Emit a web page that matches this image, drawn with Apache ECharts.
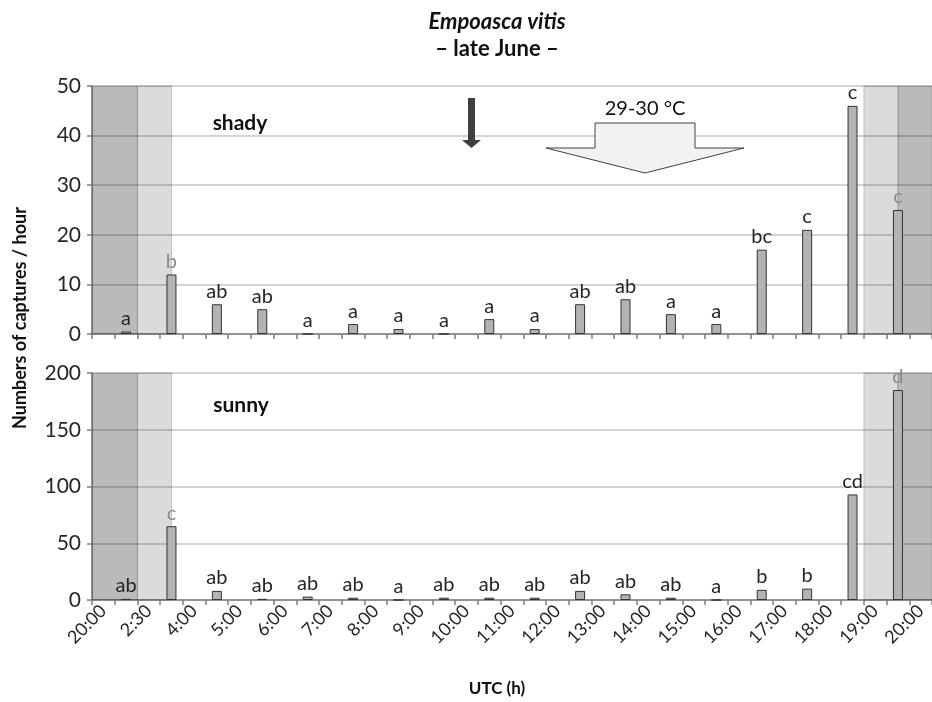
<!DOCTYPE html>
<html>
<head>
<meta charset="utf-8">
<script src="https://cdn.jsdelivr.net/npm/echarts@6/dist/echarts.min.js"></script>
<style>html,body{margin:0;padding:0;background:#fff}#c{width:932px;height:702px}</style>
</head>
<body>
<div id="c"></div>
<script>
// ---- data ----
const timeLabels = ['20:00','2:30','4:00','5:00','6:00','7:00','8:00','9:00','10:00','11:00','12:00','13:00','14:00','15:00','16:00','17:00','18:00','19:00','20:00'];
const shadyValues  = [0.5, 12, 6, 5, 0, 2, 1, 0, 3, 1, 6, 7, 4, 2, 17, 21, 46, 25];
const shadyLetters = ['a','b','ab','ab','a','a','a','a','a','a','ab','ab','a','a','bc','c','c','c'];
const sunnyValues  = [1, 65, 8, 1, 3, 2, 0, 2, 2, 2, 8, 5, 2, 0, 9, 10, 93, 185];
const sunnyLetters = ['ab','c','ab','ab','ab','ab','a','ab','ab','ab','ab','ab','ab','a','b','b','cd','d'];
const shadyTicks = [0, 10, 20, 30, 40, 50];
const sunnyTicks = [0, 50, 100, 150, 200];
// night / twilight spans in category units
const nightSpans    = [[0, 2], [35.5, 37]];
const twilightSpans = [[2, 3.5], [34, 35.5]];

// ---- build categories: time labels interleaved with bar slots ----
const cats = [];
timeLabels.forEach((t, i) => { cats.push(t); if (i < timeLabels.length - 1) cats.push(''); });
const nCat = cats.length;

function inTwilight(k) {
  const c = 2 * k + 1.5;
  return twilightSpans.some(s => c >= s[0] && c <= s[1]);
}
function buildData(vals, letters) {
  const d = [];
  for (let i = 0; i < nCat; i++) {
    if (i % 2 === 1) {
      const k = (i - 1) / 2;
      d.push({ value: vals[k], letter: letters[k],
        label: { color: inTwilight(k) ? '#8a8a8a' : '#262626' } });
    } else d.push('-');
  }
  return d;
}

const FONT = 'Lato';
const axisGray = '#7f7f7f';
const gridGray = '#c4c4c4';

function shadeSeries(xi, yi) {
  const areas = [];
  nightSpans.forEach(s => areas.push([{ xAxis: s[0], itemStyle: { color: 'rgba(0,0,0,0.27)', borderColor: 'rgba(0,0,0,0.12)', borderWidth: 1 } }, { xAxis: s[1] }]));
  twilightSpans.forEach(s => areas.push([{ xAxis: s[0], itemStyle: { color: 'rgba(0,0,0,0.14)', borderColor: 'rgba(0,0,0,0.18)', borderWidth: 1 } }, { xAxis: s[1] }]));
  return { type: 'line', xAxisIndex: xi, yAxisIndex: yi, data: [], z: 1, silent: true,
    markArea: { silent: true, data: areas } };
}
function barSeries(xi, yi, vals, letters) {
  return { type: 'bar', xAxisIndex: xi, yAxisIndex: yi, barWidth: 10, z: 3,
    data: buildData(vals, letters),
    itemStyle: { color: '#b3b3b3', borderColor: '#333', borderWidth: 1 },
    label: { show: true, position: 'top', distance: 3, fontFamily: FONT, fontSize: 20,
      formatter: p => p.data.letter } };
}
function catAxis(gi, showLabel) {
  return { type: 'category', gridIndex: gi, data: cats, boundaryGap: true,
    axisLine: { lineStyle: { color: axisGray, width: 1.5 } },
    axisTick: { show: true, interval: 0, length: 5, lineStyle: { color: axisGray, width: 1.5 } },
    axisLabel: { show: showLabel, interval: 0, rotate: 45, margin: 8, fontFamily: FONT, fontSize: 18, color: '#262626' } };
}
function valAxis(gi, ticks) {
  return { type: 'value', gridIndex: gi, min: ticks[0], max: ticks[ticks.length - 1], interval: ticks[1] - ticks[0],
    axisLine: { show: true, lineStyle: { color: axisGray, width: 1.5 } },
    axisTick: { show: true, length: 5, lineStyle: { color: axisGray, width: 1.5 } },
    splitLine: { lineStyle: { color: gridGray, width: 1.5 } },
    axisLabel: { fontFamily: FONT, fontSize: 21, color: '#262626', margin: 11 } };
}

const chart = echarts.init(document.getElementById('c'), null, { renderer: 'canvas' });
chart.setOption({
  animation: false,
  grid: [
    { left: 92, top: 86, width: 846, height: 248 },
    { left: 92, top: 373, width: 846, height: 227 }
  ],
  xAxis: [
    catAxis(0, false), catAxis(1, true),
    { type: 'value', gridIndex: 0, min: 0, max: nCat, show: false },
    { type: 'value', gridIndex: 1, min: 0, max: nCat, show: false }
  ],
  yAxis: [ valAxis(0, shadyTicks), valAxis(1, sunnyTicks) ],
  series: [
    shadeSeries(2, 0), shadeSeries(3, 1),
    barSeries(0, 0, shadyValues, shadyLetters),
    barSeries(1, 1, sunnyValues, sunnyLetters)
  ],
  graphic: [
    { type: 'text', x: 497, y: 22, style: { text: 'Empoasca vitis', font: 'italic bold 22px Lato', fill: '#111', align: 'center', verticalAlign: 'middle' } },
    { type: 'text', x: 497, y: 49, style: { text: '– late June –', font: 'bold 22px Lato', fill: '#111', align: 'center', verticalAlign: 'middle' } },
    { type: 'text', x: 20, y: 318, rotation: Math.PI / 2, style: { text: 'Numbers of captures / hour', font: 'bold 18px Lato', fill: '#111', align: 'center', verticalAlign: 'middle' } },
    { type: 'text', x: 497, y: 689, style: { text: 'UTC (h)', font: 'bold 17px Lato', fill: '#111', align: 'center', verticalAlign: 'middle' } },
    { type: 'text', x: 240, y: 123, z: 10, style: { text: 'shady', font: 'bold 21px Lato', fill: '#111', align: 'center', verticalAlign: 'middle' } },
    { type: 'text', x: 241, y: 405, z: 10, style: { text: 'sunny', font: 'bold 21px Lato', fill: '#111', align: 'center', verticalAlign: 'middle' } },
    { type: 'polygon', z: 10, shape: { points: [[468,98],[475,98],[475,140],[481,140],[471.5,148],[462,140],[468,140]] }, style: { fill: '#404040' } },
    { type: 'polygon', z: 10, shape: { points: [[595,123],[695,123],[695,148],[744,148],[645,173],[546,148],[595,148]] }, style: { fill: '#f2f2f2', stroke: '#404040', lineWidth: 1 } },
    { type: 'text', x: 645, y: 109, z: 10, style: { text: '29-30 °C', font: '20px Lato', fill: '#111', align: 'center', verticalAlign: 'middle' } }
  ]
});
</script>
</body>
</html>
